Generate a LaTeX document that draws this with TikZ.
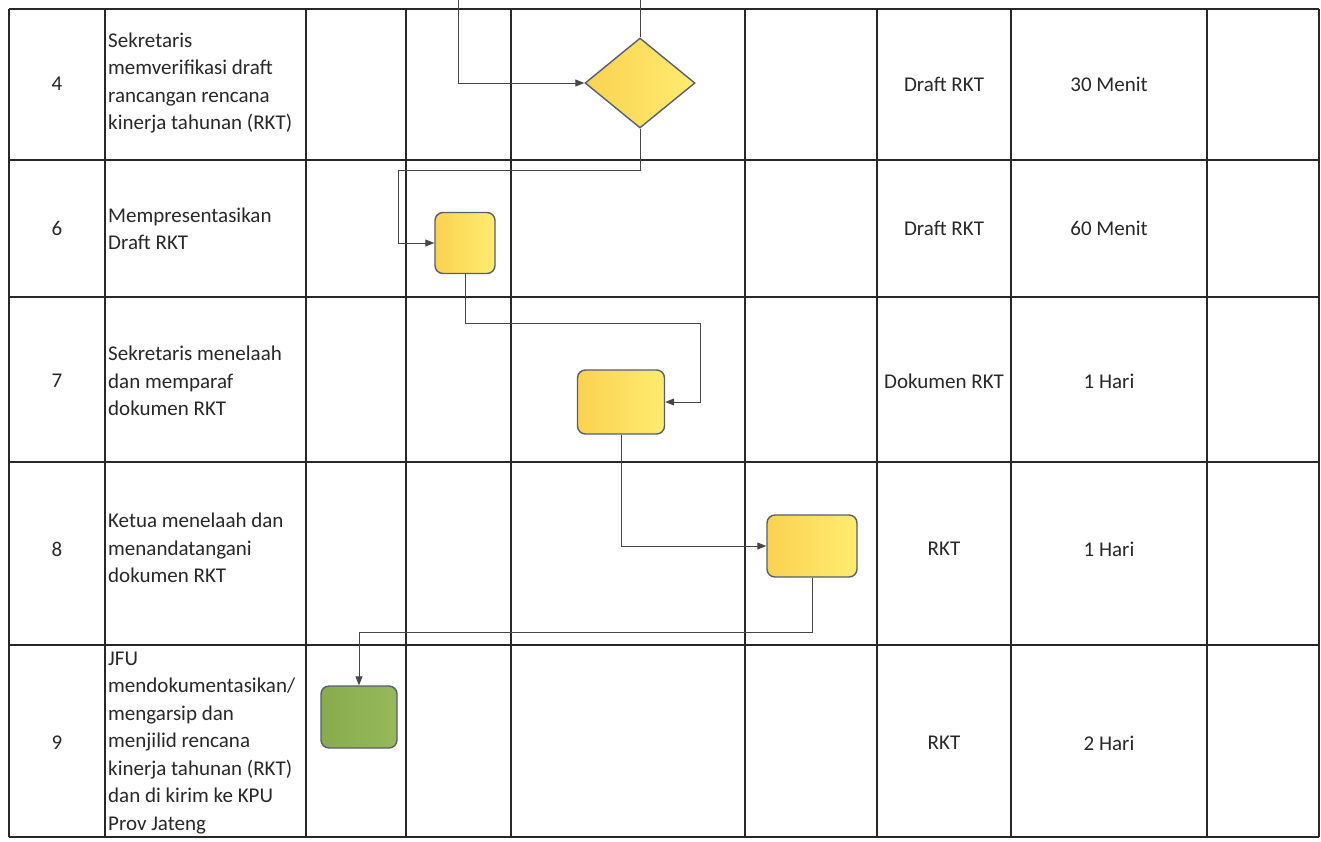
\documentclass[tikz,border=0pt]{standalone}
\usepackage{fontspec}
\setmainfont{Carlito}
\usetikzlibrary{arrows.meta,shapes.geometric,calc}
\definecolor{gridc}{RGB}{40,40,40}
\definecolor{connc}{RGB}{70,70,70}
\definecolor{bordc}{RGB}{85,95,115}
\definecolor{yl}{RGB}{250,210,80}
\definecolor{yr}{RGB}{255,236,112}
\definecolor{gl}{RGB}{135,172,78}
\definecolor{gr}{RGB}{150,185,90}
\definecolor{txtc}{RGB}{40,40,40}
\begin{document}
\begin{tikzpicture}[x=1pt,y=-1pt,
  gridline/.style={draw=gridc,line width=1.8pt},
  conn/.style={draw=connc,line width=0.9pt,-{Triangle[length=9pt,width=7pt]}},
  plainconn/.style={draw=connc,line width=0.9pt},
  proc/.style={draw=bordc,line width=1.4pt,rounded corners=8pt,left color=yl,right color=yr,inner sep=0pt},
  endproc/.style={draw=bordc,line width=1.4pt,rounded corners=8pt,left color=gl,right color=gr,inner sep=0pt},
  decis/.style={diamond,draw=bordc,line width=1.4pt,left color=yl,right color=yr,inner sep=0pt,minimum width=110pt,minimum height=90pt},
  lbl/.style={text=txtc,font=\fontsize{21}{27.5}\selectfont,inner sep=0pt},
  desc/.style={lbl,anchor=west,align=left}
]
\useasboundingbox (0,0) rectangle (1321,841);
\fill[white] (0,0) rectangle (1321,841);
% grid
\foreach \x in {9,105,306,406,511,745,877,1011,1207,1319}
  \draw[gridline] (\x,9) -- (\x,837);
\foreach \y in {9,160,297,462,645,837}
  \draw[gridline] (9,\y) -- (1319,\y);
% numbers
\node[lbl] (n4) at (57,84) {4};
\node[lbl] (n6) at (57,228) {6};
\node[lbl] (n7) at (57,381) {7};
\node[lbl] (n8) at (57,549) {8};
\node[lbl] (n9) at (57,743) {9};
% descriptions
\node[desc] (t4) at (108,83) {Sekretaris\\memverifikasi draft\\rancangan rencana\\kinerja tahunan (RKT)};
\node[desc] (t6) at (108,229) {Mempresentasikan\\Draft RKT};
\node[desc] (t7) at (108,381) {Sekretaris menelaah\\dan memparaf\\dokumen RKT};
\node[desc] (t8) at (108,548) {Ketua menelaah dan\\menandatangani\\dokumen RKT};
\node[desc] (t9) at (108,743) {JFU\\mendokumentasikan/\\mengarsip dan\\menjilid rencana\\kinerja tahunan (RKT)\\dan di kirim ke KPU\\Prov Jateng};
% outputs
\node[lbl] (o4) at (944,84) {Draft RKT};
\node[lbl] (o6) at (944,228) {Draft RKT};
\node[lbl] (o7) at (944,381) {Dokumen RKT};
\node[lbl] (o8) at (944,549) {RKT};
\node[lbl] (o9) at (944,743) {RKT};
% times
\node[lbl] (w4) at (1109,84) {30 Menit};
\node[lbl] (w6) at (1109,228) {60 Menit};
\node[lbl] (w7) at (1109,381) {1 Hari};
\node[lbl] (w8) at (1109,549) {1 Hari};
\node[lbl] (w9) at (1109,743) {2 Hari};
% shapes
\node[decis] (d4) at (640,83) {};
\node[proc,minimum width=60pt,minimum height=61pt] (b6) at (465,243) {};
\node[proc,minimum width=87pt,minimum height=64pt] (b7) at (621,402) {};
\node[proc,minimum width=90pt,minimum height=62pt] (b8) at (812,546) {};
\node[endproc,minimum width=76pt,minimum height=62pt] (b9) at (359,717) {};
% incoming from above
\coordinate (in1) at (458,0);
\coordinate (in2) at (640,0);
\draw[conn] (in1) |- (d4.west);
\draw[plainconn] (in2) -- (d4.north);
% connectors
\draw[conn] (d4.south) -- ++(0,42) -| (398,243) -- (b6.west);
\draw[conn] (b6.south) -- ++(0,49) -| (700,402) -- (b7.east);
\draw[conn] (b7.south) |- (b8.west);
\draw[conn] (b8.south) -- ++(0,55) -| (b9.north);
\end{tikzpicture}
\end{document}
